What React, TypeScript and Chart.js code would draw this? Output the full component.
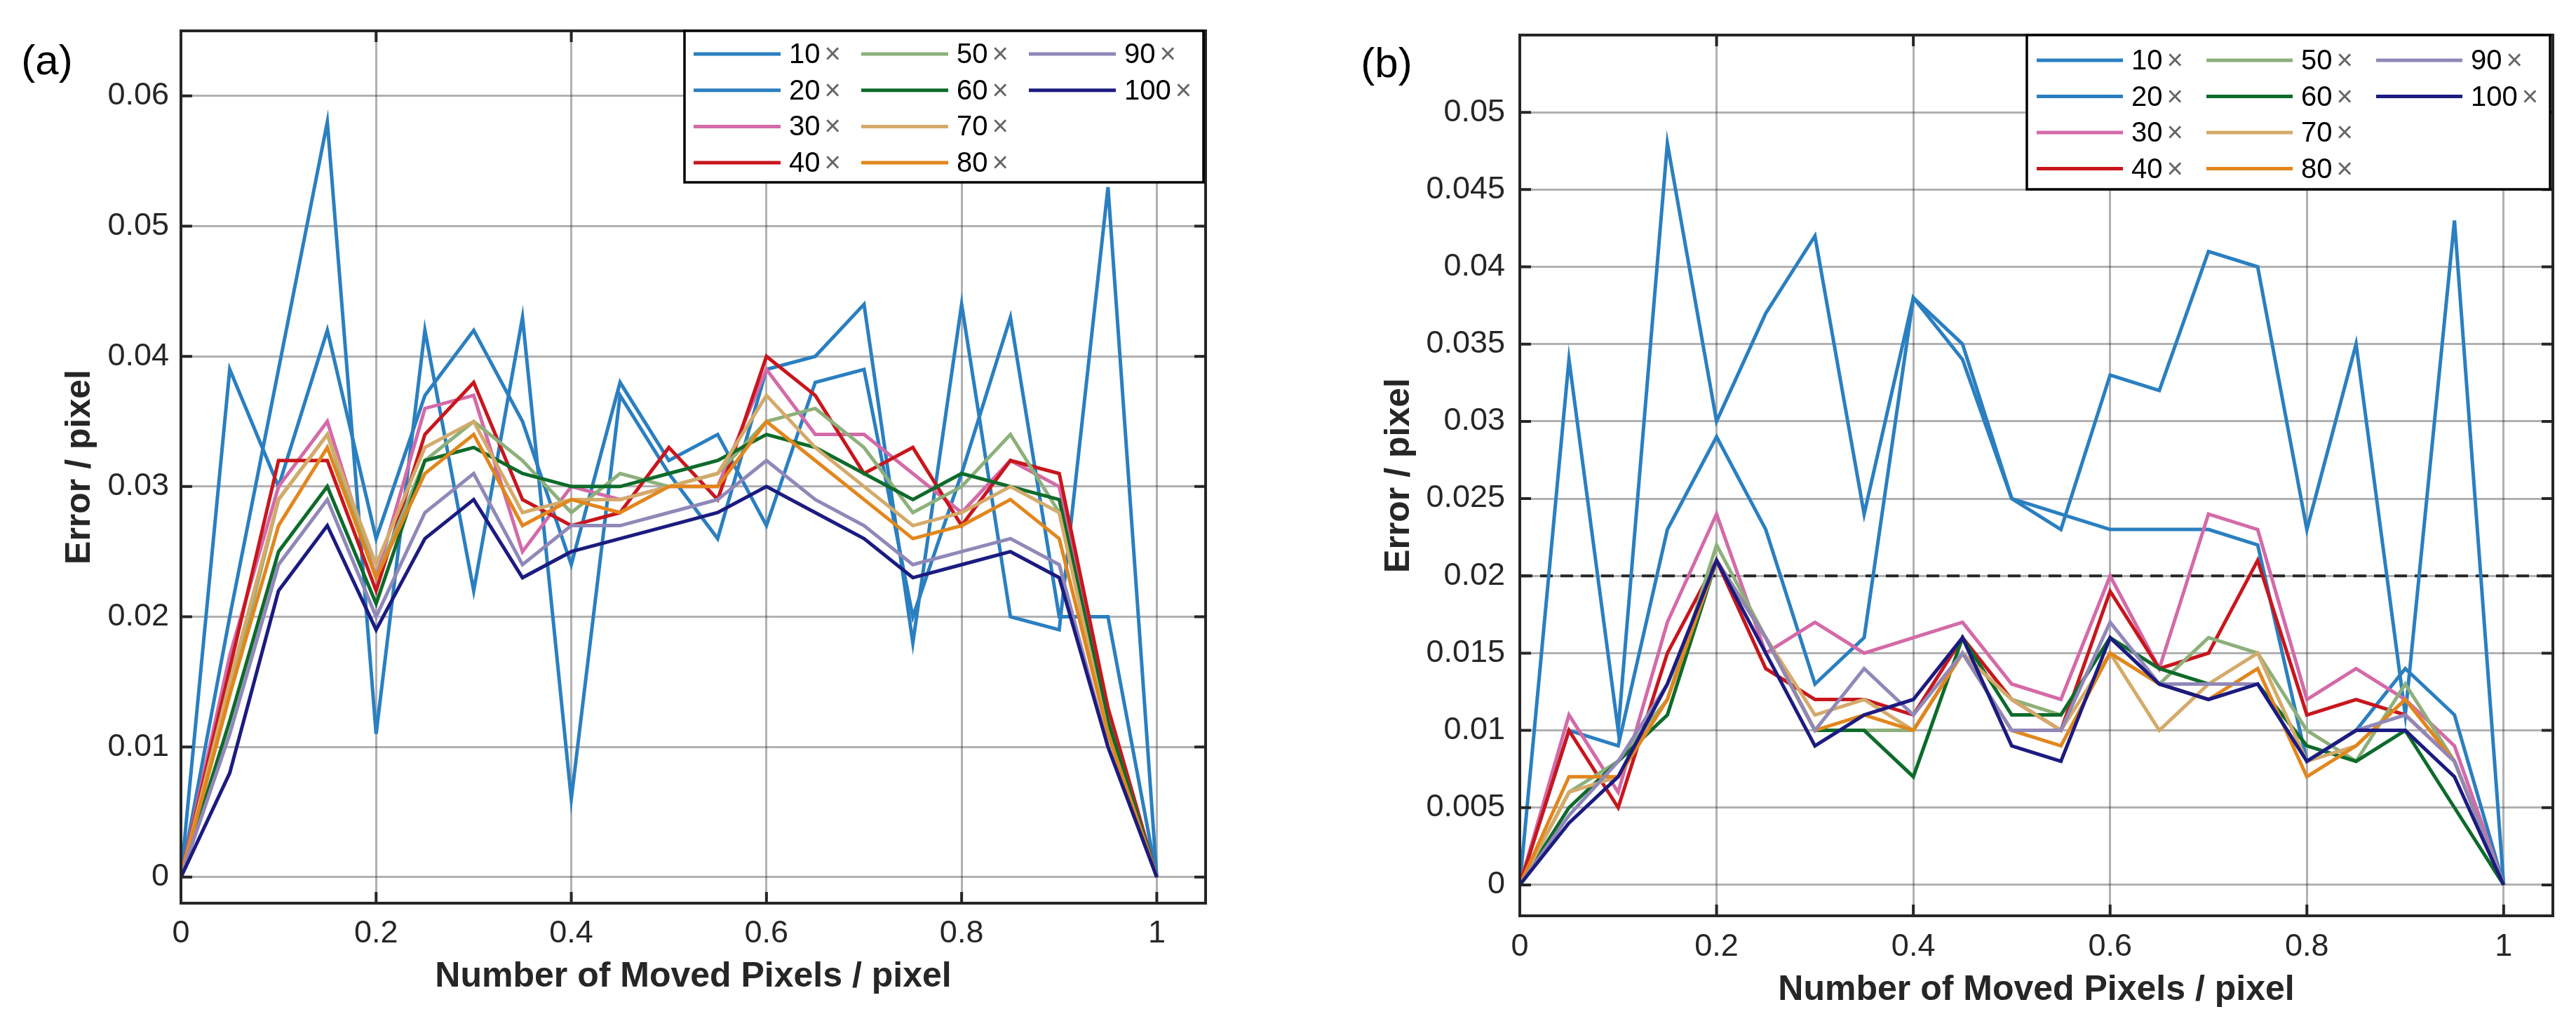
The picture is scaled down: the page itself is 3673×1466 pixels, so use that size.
import React, { useEffect, useRef } from 'react';
import { Chart, registerables } from 'chart.js';

Chart.register(...registerables);

// ---------- data ----------
const xValues = [0, 0.05, 0.1, 0.15, 0.2, 0.25, 0.3, 0.35, 0.4, 0.45, 0.5, 0.55, 0.6, 0.65, 0.7, 0.75, 0.8, 0.85, 0.9, 0.95, 1];
const seriesLabels = ['10×', '20×', '30×', '40×', '50×', '60×', '70×', '80×', '90×', '100×'];
const seriesColors = ['#2a7fc0', '#2a7fc0', '#d46aa8', '#c8161d', '#8db07a', '#0d6b2b', '#d4aa6a', '#e2861c', '#9088b8', '#1b1b80'];
const xTicks = [0, 0.2, 0.4, 0.6, 0.8, 1];
const yTicksA = [0, 0.01, 0.02, 0.03, 0.04, 0.05, 0.06];
const yTicksB = [0, 0.005, 0.01, 0.015, 0.02, 0.025, 0.03, 0.035, 0.04, 0.045, 0.05];
const xTitle = 'Number of Moved Pixels / pixel';
const yTitle = 'Error / pixel';

// panel (a)
const a10 = [0, 0.039, 0.030, 0.042, 0.026, 0.037, 0.042, 0.035, 0.024, 0.038, 0.032, 0.034, 0.027, 0.038, 0.039, 0.020, 0.031, 0.043, 0.020, 0.020, 0];
const a20 = [0, 0.020, 0.039, 0.058, 0.011, 0.042, 0.022, 0.043, 0.006, 0.037, 0.031, 0.026, 0.039, 0.040, 0.044, 0.018, 0.044, 0.020, 0.019, 0.053, 0];
const a30 = [0, 0.017, 0.030, 0.035, 0.023, 0.036, 0.037, 0.025, 0.030, 0.029, 0.030, 0.030, 0.039, 0.034, 0.034, 0.031, 0.028, 0.032, 0.030, 0.012, 0];
const a40 = [0, 0.016, 0.032, 0.032, 0.022, 0.034, 0.038, 0.029, 0.027, 0.028, 0.033, 0.029, 0.040, 0.037, 0.031, 0.033, 0.027, 0.032, 0.031, 0.013, 0];
const a50 = [0, 0.014, 0.029, 0.034, 0.023, 0.032, 0.035, 0.032, 0.028, 0.031, 0.030, 0.031, 0.035, 0.036, 0.033, 0.028, 0.030, 0.034, 0.028, 0.012, 0];
const a60 = [0, 0.012, 0.025, 0.030, 0.021, 0.032, 0.033, 0.031, 0.030, 0.030, 0.031, 0.032, 0.034, 0.033, 0.031, 0.029, 0.031, 0.030, 0.029, 0.012, 0];
const a70 = [0, 0.015, 0.029, 0.034, 0.024, 0.033, 0.035, 0.028, 0.029, 0.029, 0.030, 0.031, 0.037, 0.033, 0.030, 0.027, 0.028, 0.030, 0.028, 0.011, 0];
const a80 = [0, 0.014, 0.027, 0.033, 0.023, 0.031, 0.034, 0.027, 0.029, 0.028, 0.030, 0.030, 0.035, 0.032, 0.029, 0.026, 0.027, 0.029, 0.026, 0.011, 0];
const a90 = [0, 0.011, 0.024, 0.029, 0.020, 0.028, 0.031, 0.024, 0.027, 0.027, 0.028, 0.029, 0.032, 0.029, 0.027, 0.024, 0.025, 0.026, 0.024, 0.010, 0];
const a100 = [0, 0.008, 0.022, 0.027, 0.019, 0.026, 0.029, 0.023, 0.025, 0.026, 0.027, 0.028, 0.030, 0.028, 0.026, 0.023, 0.024, 0.025, 0.023, 0.010, 0];

// panel (b)
const b10 = [0, 0.034, 0.010, 0.048, 0.030, 0.037, 0.042, 0.024, 0.038, 0.034, 0.025, 0.023, 0.033, 0.032, 0.041, 0.040, 0.023, 0.035, 0.011, 0.043, 0];
const b20 = [0, 0.010, 0.009, 0.023, 0.029, 0.023, 0.013, 0.016, 0.038, 0.035, 0.025, 0.024, 0.023, 0.023, 0.023, 0.022, 0.008, 0.010, 0.014, 0.011, 0];
const b30 = [0, 0.011, 0.006, 0.017, 0.024, 0.015, 0.017, 0.015, 0.016, 0.017, 0.013, 0.012, 0.020, 0.014, 0.024, 0.023, 0.012, 0.014, 0.012, 0.009, 0];
const b40 = [0, 0.010, 0.005, 0.015, 0.021, 0.014, 0.012, 0.012, 0.011, 0.016, 0.012, 0.010, 0.019, 0.014, 0.015, 0.021, 0.011, 0.012, 0.011, 0.008, 0];
const b50 = [0, 0.006, 0.008, 0.012, 0.022, 0.016, 0.010, 0.010, 0.010, 0.015, 0.012, 0.011, 0.016, 0.013, 0.016, 0.015, 0.010, 0.008, 0.013, 0.008, 0];
const b60 = [0, 0.005, 0.008, 0.011, 0.021, 0.016, 0.010, 0.010, 0.007, 0.016, 0.011, 0.011, 0.016, 0.014, 0.013, 0.013, 0.009, 0.008, 0.010, 0.005, 0];
const b70 = [0, 0.006, 0.007, 0.012, 0.021, 0.016, 0.011, 0.012, 0.010, 0.015, 0.012, 0.010, 0.015, 0.010, 0.013, 0.015, 0.008, 0.009, 0.012, 0.008, 0];
const b80 = [0, 0.007, 0.007, 0.012, 0.021, 0.016, 0.010, 0.011, 0.010, 0.015, 0.010, 0.009, 0.015, 0.013, 0.012, 0.014, 0.007, 0.009, 0.012, 0.008, 0];
const b90 = [0, 0.0045, 0.008, 0.013, 0.021, 0.016, 0.010, 0.014, 0.011, 0.015, 0.010, 0.010, 0.017, 0.013, 0.013, 0.013, 0.008, 0.010, 0.011, 0.008, 0];
const b100 = [0, 0.004, 0.007, 0.013, 0.021, 0.015, 0.009, 0.011, 0.012, 0.016, 0.009, 0.008, 0.016, 0.013, 0.012, 0.013, 0.008, 0.010, 0.010, 0.007, 0];
const thresholdB = 0.02;

const seriesA = [a10, a20, a30, a40, a50, a60, a70, a80, a90, a100];
const seriesB = [b10, b20, b30, b40, b50, b60, b70, b80, b90, b100];

// ---------- styling ----------
const FONT = '"Liberation Sans", Arial, Helvetica, sans-serif';
const AXIS_COLOR = '#262626';
const GRID_COLOR = 'rgba(38,38,38,0.36)';

const fmt = (v: any) => String(parseFloat(Number(v).toFixed(4)));

const framePlugin = {
  id: 'frame',
  afterDatasetsDraw(chart: any) {
    const { ctx, chartArea, scales } = chart;
    const { left, right, top, bottom } = chartArea;
    const tl = 16;
    ctx.save();
    ctx.strokeStyle = AXIS_COLOR;
    ctx.lineWidth = 4;
    ctx.beginPath();
    scales.x.ticks.forEach((t: any) => {
      const px = scales.x.getPixelForValue(t.value);
      ctx.moveTo(px, bottom);
      ctx.lineTo(px, bottom - tl);
      ctx.moveTo(px, top);
      ctx.lineTo(px, top + tl);
    });
    scales.y.ticks.forEach((t: any) => {
      const py = scales.y.getPixelForValue(t.value);
      ctx.moveTo(left, py);
      ctx.lineTo(left + tl, py);
      ctx.moveTo(right, py);
      ctx.lineTo(right - tl, py);
    });
    ctx.stroke();
    ctx.strokeRect(left, top, right - left, bottom - top);
    ctx.restore();
  },
};

const legendPlugin = {
  id: 'boxLegend',
  afterDraw(chart: any, _args: any, opts: any) {
    const { ctx, chartArea } = chart;
    const w = opts.width;
    const h = opts.height;
    const bx = chartArea.right - opts.inset - w;
    const by = chartArea.top;
    ctx.save();
    ctx.fillStyle = '#ffffff';
    ctx.fillRect(bx, by, w, h);
    ctx.strokeStyle = '#000000';
    ctx.lineWidth = 3.5;
    ctx.strokeRect(bx, by, w, h);
    ctx.font = `40px ${FONT}`;
    ctx.textBaseline = 'middle';
    ctx.textAlign = 'left';
    opts.labels.forEach((label: string, i: number) => {
      const col = Math.floor(i / 4);
      const row = i % 4;
      const lx = bx + opts.lineStart + col * opts.colW;
      const ly = by + opts.rowTop + row * opts.rowH;
      ctx.strokeStyle = opts.colors[i];
      ctx.lineWidth = 5;
      ctx.beginPath();
      ctx.moveTo(lx, ly);
      ctx.lineTo(lx + opts.lineLen, ly);
      ctx.stroke();
      const num = label.slice(0, -1);
      const mark = label.slice(-1);
      const tx = lx + opts.lineLen + 12;
      ctx.fillStyle = '#000000';
      ctx.fillText(num, tx, ly + 2);
      const nw = ctx.measureText(num).width;
      ctx.fillStyle = '#666666';
      ctx.fillText(mark, tx + nw + 6, ly + 2);
    });
    ctx.restore();
  },
};

const panelLabelPlugin = {
  id: 'panelLabel',
  afterDraw(chart: any, _args: any, opts: any) {
    const { ctx } = chart;
    ctx.save();
    ctx.font = `60px ${FONT}`;
    ctx.fillStyle = '#000000';
    ctx.textAlign = 'center';
    ctx.textBaseline = 'middle';
    ctx.fillText(opts.text, opts.x, opts.y);
    ctx.restore();
  },
};

type PanelSpec = {
  width: number;
  height: number;
  series: number[][];
  yMin: number;
  yMax: number;
  yTicks: number[];
  padding: { left: number; top: number; right: number; bottom: number };
  yAxisW: number;
  xAxisH: number;
  yTickPad: number;
  xTickPad: number;
  label: string;
  labelX: number;
  labelY: number;
  threshold?: number;
  legend: { width: number; height: number; inset: number; rowTop: number; rowH: number; colW: number; lineStart: number; lineLen: number };
};

function Panel({ spec }: { spec: PanelSpec }) {
  const ref = useRef<HTMLCanvasElement | null>(null);
  useEffect(() => {
    if (!ref.current) return;
    const datasets: any[] = spec.series.map((arr, i) => ({
      label: seriesLabels[i],
      data: arr.map((v, j) => ({ x: xValues[j], y: v })),
      borderColor: seriesColors[i],
      borderWidth: 5,
      pointRadius: 0,
      fill: false,
      tension: 0,
      borderJoinStyle: 'miter',
      order: 20 - i,
    }));
    if (spec.threshold !== undefined) {
      datasets.push({
        label: 'threshold',
        data: [
          { x: 0, y: spec.threshold },
          { x: 1.05, y: spec.threshold },
        ],
        borderColor: '#262626',
        borderWidth: 4,
        borderDash: [18, 11],
        pointRadius: 0,
        fill: false,
        order: 100,
      });
    }
    const chart = new Chart(ref.current, {
      type: 'line',
      data: { datasets },
      plugins: [framePlugin, legendPlugin, panelLabelPlugin],
      options: {
        animation: false,
        responsive: false,
        events: [],
        layout: { padding: spec.padding },
        plugins: {
          legend: { display: false },
          tooltip: { enabled: false },
          boxLegend: { ...spec.legend, labels: seriesLabels, colors: seriesColors },
          panelLabel: { text: spec.label, x: spec.labelX, y: spec.labelY },
        } as any,
        scales: {
          x: {
            type: 'linear',
            min: 0,
            max: 1.05,
            afterBuildTicks: (s: any) => {
              s.ticks = xTicks.map((v) => ({ value: v }));
            },
            afterFit: (s: any) => {
              s.height = spec.xAxisH;
            },
            grid: { color: GRID_COLOR, lineWidth: 3, drawTicks: false },
            border: { display: false },
            ticks: {
              padding: spec.xTickPad,
              color: AXIS_COLOR,
              font: { family: FONT, size: 45 },
              callback: fmt,
              autoSkip: false,
              maxRotation: 0,
            },
            title: {
              display: true,
              text: xTitle,
              color: AXIS_COLOR,
              font: { family: FONT, size: 50, weight: 'bold', lineHeight: 1.2 },
              padding: 0,
            },
          },
          y: {
            type: 'linear',
            min: spec.yMin,
            max: spec.yMax,
            afterBuildTicks: (s: any) => {
              s.ticks = spec.yTicks.map((v) => ({ value: v }));
            },
            afterFit: (s: any) => {
              s.width = spec.yAxisW;
            },
            grid: { color: GRID_COLOR, lineWidth: 3, drawTicks: false },
            border: { display: false },
            ticks: {
              padding: spec.yTickPad,
              color: AXIS_COLOR,
              font: { family: FONT, size: 45 },
              callback: fmt,
              autoSkip: false,
            },
            title: {
              display: true,
              text: yTitle,
              color: AXIS_COLOR,
              font: { family: FONT, size: 50, weight: 'bold', lineHeight: 1.2 },
              padding: 0,
            },
          },
        },
      } as any,
    });
    return () => chart.destroy();
  }, [spec]);
  return <canvas ref={ref} width={spec.width} height={spec.height} style={{ display: 'block', width: spec.width, height: spec.height }} />;
}

const specA: PanelSpec = {
  width: 1836,
  height: 1466,
  series: seriesA,
  yMin: -0.002,
  yMax: 0.065,
  yTicks: yTicksA,
  padding: { left: 84, top: 44, right: 117, bottom: 43 },
  yAxisW: 174,
  xAxisH: 135,
  yTickPad: 17,
  xTickPad: 17,
  label: '(a)',
  labelX: 67,
  labelY: 89,
  legend: { width: 740, height: 216, inset: 3, rowTop: 33, rowH: 51.7, colW: 239, lineStart: 13, lineLen: 124 },
};

const specB: PanelSpec = {
  width: 1837,
  height: 1466,
  series: seriesB,
  yMin: -0.002,
  yMax: 0.055,
  yTicks: yTicksB,
  padding: { left: 129, top: 50, right: 33, bottom: 24 },
  yAxisW: 202,
  xAxisH: 136,
  yTickPad: 21,
  xTickPad: 18,
  label: '(b)',
  labelX: 141,
  labelY: 93,
  threshold: thresholdB,
  legend: { width: 746, height: 220, inset: 4, rowTop: 36, rowH: 51.5, colW: 242, lineStart: 14, lineLen: 123 },
};

export default function App() {
  useEffect(() => {
    document.body.style.margin = '0';
    document.body.style.background = '#ffffff';
  }, []);
  return (
    <div style={{ position: 'relative', width: 3673, height: 1466, background: '#ffffff', overflow: 'hidden' }}>
      <div style={{ position: 'absolute', left: 0, top: 0 }}>
        <Panel spec={specA} />
      </div>
      <div style={{ position: 'absolute', left: 1836, top: 0 }}>
        <Panel spec={specB} />
      </div>
    </div>
  );
}
